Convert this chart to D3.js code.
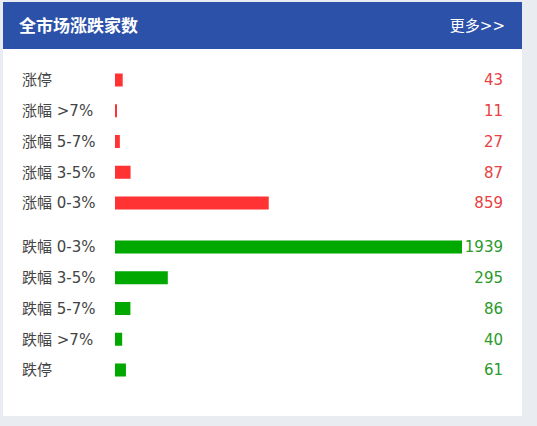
<!DOCTYPE html>
<html>
<head>
<meta charset="utf-8">
<script src="https://cdn.jsdelivr.net/npm/d3@7"></script>
<style>
  html, body { margin: 0; padding: 0; background: #e9ecf0; }
  svg { display: block; }
</style>
</head>
<body>
<div id="chart"></div>
<script>
const title = "全市场涨跌家数";
const moreLabel = "更多>>";

const upLabels = ["涨停", "涨幅 >7%", "涨幅 5-7%", "涨幅 3-5%", "涨幅 0-3%"];
const upValues = [43, 11, 27, 87, 859];

const downLabels = ["跌幅 0-3%", "跌幅 3-5%", "跌幅 5-7%", "跌幅 >7%", "跌停"];
const downValues = [1939, 295, 86, 40, 61];

const width = 537, height = 426;
const font = "'Noto Sans CJK SC', 'Noto Sans', sans-serif";
const mixFont = "'DejaVu Sans', 'Noto Sans CJK SC', sans-serif";

const svg = d3.select("#chart").append("svg")
  .attr("width", width)
  .attr("height", height);

svg.append("rect")
  .attr("width", width).attr("height", height)
  .attr("fill", "#e9ecf0");

// white card
svg.append("rect")
  .attr("x", 3).attr("y", 2)
  .attr("width", 519).attr("height", 414)
  .attr("fill", "#fff");

// header
svg.append("rect")
  .attr("x", 3).attr("y", 2)
  .attr("width", 519).attr("height", 47)
  .attr("fill", "#2c51a9");

svg.append("text")
  .attr("x", 19).attr("y", 32)
  .attr("font-family", font)
  .attr("font-size", 17)
  .attr("font-weight", "bold")
  .attr("fill", "#fff")
  .text(title);

svg.append("text")
  .attr("x", 505).attr("y", 31)
  .attr("text-anchor", "end")
  .attr("font-family", mixFont)
  .attr("font-size", 15)
  .attr("fill", "#fff")
  .text(moreLabel);

const rows = [
  ...upLabels.map((l, i) => ({ label: l, value: upValues[i], up: true })),
  ...downLabels.map((l, i) => ({ label: l, value: downValues[i], up: false })),
];

const x = d3.scaleLinear()
  .domain([0, d3.max(rows, (d) => d.value)])
  .range([0, 347]);

// two bands, with a wider gap between the up and down groups
const yUp = d3.scalePoint().domain(upLabels).range([80, 203]);
const yDown = d3.scalePoint().domain(downLabels).range([247, 370]);
const y = (d) => (d.up ? yUp(d.label) : yDown(d.label));

const barX = 115, barH = 13;

const row = svg.append("g")
  .selectAll("g")
  .data(rows)
  .join("g")
  .attr("transform", (d) => `translate(0, ${y(d)})`);

row.append("text")
  .attr("x", 22)
  .attr("dy", "0.35em")
  .attr("font-family", mixFont)
  .attr("font-size", 15)
  .attr("fill", "#444")
  .text((d) => d.label);

row.append("rect")
  .attr("x", barX)
  .attr("y", -barH / 2)
  .attr("width", (d) => Math.max(2, x(d.value)))
  .attr("height", barH)
  .attr("fill", (d) => (d.up ? "#ff3333" : "#00a800"));

row.append("text")
  .attr("x", 503)
  .attr("dy", "0.35em")
  .attr("text-anchor", "end")
  .attr("font-family", mixFont)
  .attr("font-size", 15)
  .attr("fill", (d) => (d.up ? "#e8413f" : "#2a9a2a"))
  .text((d) => d.value);
</script>
</body>
</html>
